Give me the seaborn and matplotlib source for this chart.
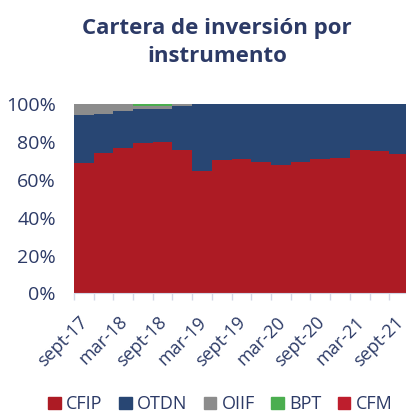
import numpy as np
import matplotlib
matplotlib.use('Agg')
import matplotlib.pyplot as plt
import matplotlib.patches as mpatches
import pandas as pd
import seaborn as sns

# quarterly shares (%), sept-17 .. sept-21
quarters = ['sept-17', 'dic-17', 'mar-18', 'jun-18', 'sept-18', 'dic-18', 'mar-19', 'jun-19',
            'sept-19', 'dic-19', 'mar-20', 'jun-20', 'sept-20', 'dic-20', 'mar-21', 'jun-21', 'sept-21']
cfip = [69.0, 74.0, 76.9, 79.4, 79.8, 75.9, 64.6, 70.3, 70.8, 69.2, 67.7, 69.2, 70.8, 71.3, 75.6, 75.0, 73.5]
otdn = [25.2, 20.7, 19.4, 18.0, 17.9, 23.2, 35.4, 29.7, 29.2, 30.8, 32.3, 30.8, 29.2, 28.7, 24.4, 25.0, 26.5]
oiif = [5.8, 5.3, 3.7, 1.8, 1.5, 0.9, 0, 0, 0, 0, 0, 0, 0, 0, 0, 0, 0]
bpt = [0, 0, 0, 0.8, 0.8, 0, 0, 0, 0, 0, 0, 0, 0, 0, 0, 0, 0]
cfm = [0] * 17
series = ['CFIP', 'OTDN', 'OIIF', 'BPT', 'CFM']
colors = ['#AD1B24', '#284673', '#8C8C8C', '#4BAE4F', '#BE1E2D']
navy = '#2C3A66'

rows = []
for name, vals in zip(series, [cfip, otdn, oiif, bpt, cfm]):
    for i, v in enumerate(vals):
        rows.append({'q': i, 'share': v, 'serie': name})
df = pd.DataFrame(rows)

sns.set_style('white')
plt.rcParams['font.family'] = ['Open Sans', 'DejaVu Sans']

fig = plt.figure(figsize=(4.08, 4.15), dpi=100)
ax = fig.add_axes([0.181, 0.293, 0.812, 0.456])

# seaborn stacks hue levels with the last one at the bottom
order = series[::-1]
sns.histplot(data=df, x='q', weights='share', hue='serie', hue_order=order,
             palette=dict(zip(series, colors)), multiple='stack', element='step',
             binwidth=1, binrange=(0, len(quarters)), alpha=1, linewidth=0,
             legend=False, ax=ax)

ax.set_xlim(0, len(quarters) - 0.2)
ax.set_ylim(0, 100)
ax.set_xlabel('')
ax.set_ylabel('')
ax.set_yticks(np.arange(0, 101, 20))
ax.set_yticklabels([f'{v}%' for v in range(0, 101, 20)], fontsize=14, color=navy)
ax.tick_params(axis='y', length=0, pad=13)

major = list(range(0, len(quarters), 2))
ax.set_xticks(major)
ax.set_xticklabels([quarters[i] for i in major], rotation=45, ha='right',
                   rotation_mode='anchor', fontsize=13, color=navy)
ax.set_xticks(range(len(quarters)), minor=True)
ax.tick_params(axis='x', which='both', length=5, width=1, color='#D3D7E6',
               direction='out', bottom=True, pad=9)
for lab in ax.get_xticklabels():
    lab.set_transform(lab.get_transform() + matplotlib.transforms.ScaledTranslation(5 / 100, 0, fig.dpi_scale_trans))

for s in ['top', 'right', 'left']:
    ax.spines[s].set_visible(False)
ax.spines['bottom'].set_color('#D3D7E6')

fig.text(0.532, 0.956, 'Cartera de inversión por\ninstrumento', ha='center', va='top',
         fontsize=16, fontweight='bold', color=navy, linespacing=1.45)

handles = [mpatches.Patch(color=c, label=n) for n, c in zip(series, colors)]
fig.legend(handles=handles, loc='lower center', bbox_to_anchor=(0.54, -0.035), ncol=5,
           frameon=False, fontsize=13, handlelength=0.7, handleheight=0.7,
           handletextpad=0.3, columnspacing=0.9, labelcolor=navy)

plt.savefig('out.png', dpi=100)
